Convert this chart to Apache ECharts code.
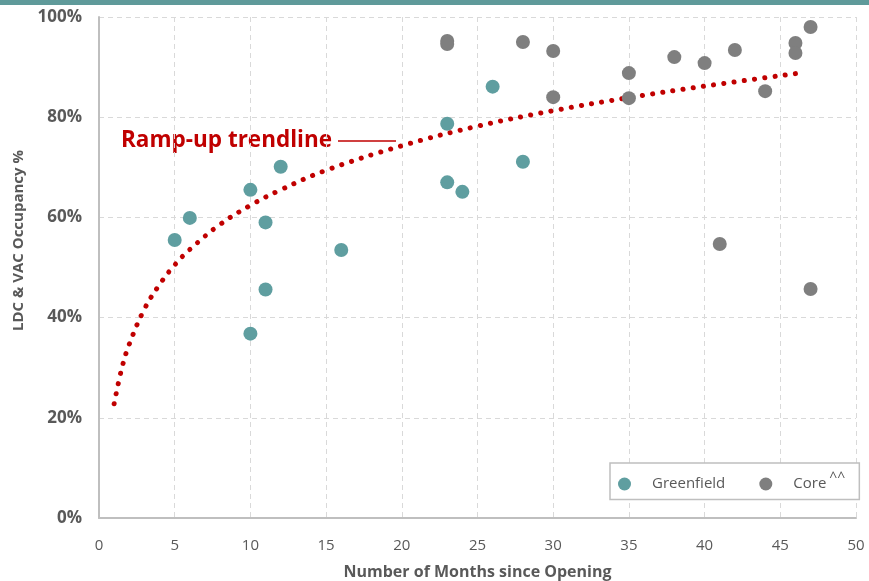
<!DOCTYPE html>
<html>
<head>
<meta charset="utf-8">
<script src="https://cdn.jsdelivr.net/npm/echarts@6/dist/echarts.min.js"></script>
<style>
  html, body { margin: 0; padding: 0; background: #fff; }
  #chart { width: 869px; height: 581px; }
</style>
</head>
<body>
<div id="chart"></div>
<script>
// Months since opening / occupancy % for each site type
const greenfieldMonths = [5, 6, 10, 10, 11, 11, 12, 16, 23, 23, 24, 26, 28];
const greenfieldOcc    = [55.5, 59.9, 65.5, 36.8, 59.0, 45.6, 70.1, 53.5, 78.7, 67.0, 65.1, 86.1, 71.1];

const coreMonths = [23, 23, 28, 30, 30, 35, 35, 38, 40, 41, 42, 44, 46, 46, 47, 47];
const coreOcc    = [95.2, 94.6, 95.0, 93.2, 84.0, 88.8, 83.8, 92.0, 90.8, 54.7, 93.4, 85.2, 94.8, 92.8, 98.0, 45.7];

// Ramp-up trendline, sampled along its curve
const trendMonths = [1, 1.5, 2, 3, 4, 5, 6, 8, 10, 12, 15, 20, 25, 30, 35, 40, 46.5];
const trendOcc    = [22.8, 29.8, 34.7, 41.7, 46.6, 50.5, 53.6, 58.6, 62.4, 65.5, 69.4, 74.3, 78.2, 81.3, 83.9, 86.2, 88.9];

const xTicks = [0, 5, 10, 15, 20, 25, 30, 35, 40, 45, 50];
const yTicks = [0, 20, 40, 60, 80, 100];

const zip = (xs, ys) => xs.map((x, i) => [x, ys[i]]);

const FONT = '"Open Sans", "Noto Sans", sans-serif';
const TEAL = '#5f9ea0';
const GREY = '#7f7f7f';
const RED = '#c00000';
const LABEL = '#595959';

const chart = echarts.init(document.getElementById('chart'));
chart.setOption({
  animation: false,
  backgroundColor: '#ffffff',
  grid: { left: 99, right: 13, top: 17, bottom: 63, containLabel: false, outerBoundsMode: 'none' },
  xAxis: {
    type: 'value',
    min: xTicks[0],
    max: xTicks[xTicks.length - 1],
    interval: 5,
    name: 'Number of Months since Opening',
    nameLocation: 'middle',
    nameGap: 46,
    nameTextStyle: { fontFamily: FONT, fontSize: 16, fontWeight: 'bold', color: LABEL },
    axisLine: { show: true, lineStyle: { color: '#bfbfbf', width: 2 } },
    axisTick: { show: false },
    axisLabel: { margin: 20, fontFamily: FONT, fontSize: 15, color: LABEL },
    splitLine: { show: true, lineStyle: { type: [5, 4], color: '#d9d9d9', width: 1 } }
  },
  yAxis: {
    type: 'value',
    min: yTicks[0],
    max: yTicks[yTicks.length - 1],
    interval: 20,
    name: 'LDC & VAC Occupancy %',
    nameLocation: 'middle',
    nameGap: 69,
    nameTextStyle: { fontFamily: FONT, fontSize: 15, fontWeight: 'bold', color: LABEL, padding: [0, 0, 0, 54] },
    axisLine: { show: true, lineStyle: { color: '#bfbfbf', width: 2 } },
    axisTick: { show: false },
    axisLabel: { margin: 17, fontFamily: FONT, fontSize: 17, fontWeight: 'bold', color: LABEL,
                 formatter: v => v + '%' },
    splitLine: { show: true, lineStyle: { type: [5, 4], color: '#d9d9d9', width: 1 } }
  },
  legend: {
    data: ['Greenfield', 'Core'],
    orient: 'horizontal',
    left: 610,
    top: 463,
    width: 400,
    padding: [8, 14, 8, 8],
    itemGap: 34,
    itemWidth: 13,
    itemHeight: 13,
    icon: 'circle',
    borderColor: '#bfbfbf',
    borderWidth: 1.5,
    backgroundColor: '#ffffff',
    textStyle: {
      fontFamily: FONT, fontSize: 15, color: LABEL, padding: [0, 0, 0, 16],
      rich: { sup: { fontFamily: FONT, fontSize: 14, color: LABEL, verticalAlign: 'top', padding: [0, 0, 12, 3] } }
    },
    formatter: name => name === 'Core' ? 'Core{sup|^^}' : name
  },
  series: [
    {
      name: 'Ramp-up trendline',
      type: 'line',
      data: zip(trendMonths, trendOcc),
      smooth: 0.4,
      showSymbol: false,
      z: 3,
      lineStyle: { color: RED, width: 5, type: [0.1, 10.2], cap: 'round' }
    },
    {
      name: 'Greenfield',
      type: 'scatter',
      data: zip(greenfieldMonths, greenfieldOcc),
      symbolSize: 14,
      itemStyle: { color: TEAL, opacity: 1 },
      z: 4
    },
    {
      name: 'Core',
      type: 'scatter',
      data: zip(coreMonths, coreOcc),
      symbolSize: 14,
      itemStyle: { color: GREY, opacity: 1 },
      z: 4
    }
  ],
  graphic: [
    { type: 'rect', left: 0, top: 0, shape: { width: 869, height: 5 }, style: { fill: '#5f9a9a' } },
    { type: 'text', left: 121, top: 129,
      style: { text: 'Ramp-up trendline', fontFamily: FONT, fontSize: 22.5, fontWeight: 'bold', fill: RED } },
    { type: 'line', shape: { x1: 338, y1: 141, x2: 396, y2: 141 }, style: { stroke: RED, lineWidth: 1.5 } }
  ]
});
</script>
</body>
</html>
